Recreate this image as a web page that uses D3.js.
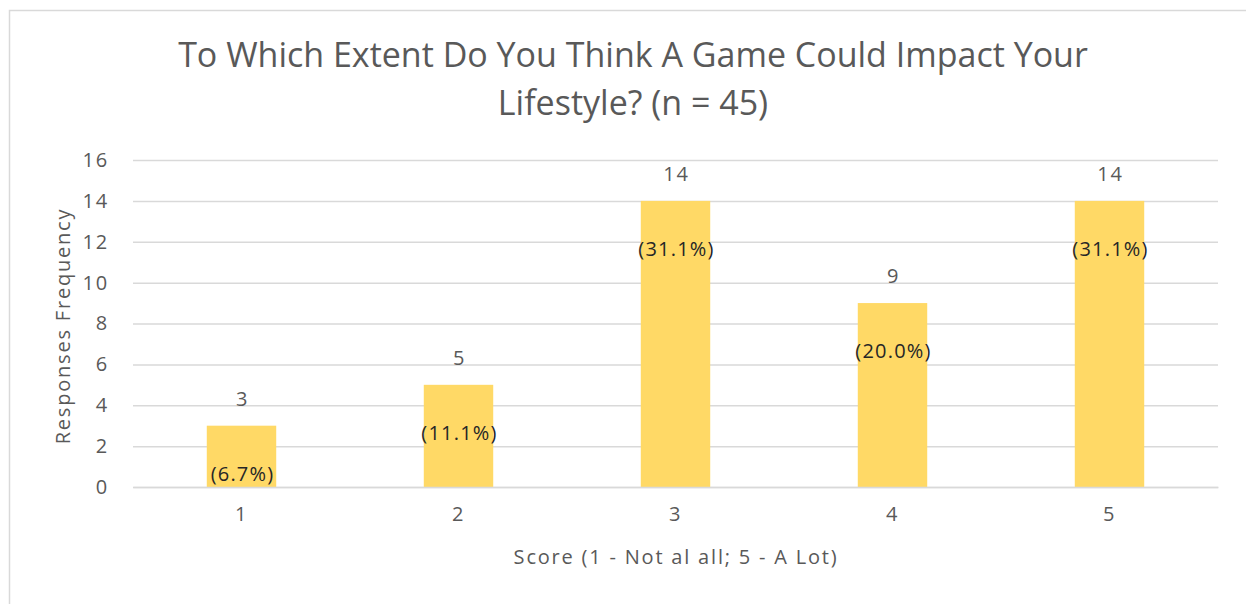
<!DOCTYPE html>
<html><head><meta charset="utf-8">
<script src="https://cdn.jsdelivr.net/npm/d3@7"></script>
<style>html,body{margin:0;padding:0;background:#fff;overflow:hidden}</style>
</head><body>
<svg id="c" width="1246" height="604"></svg>
<script>
const categories = ["1","2","3","4","5"];
const frequencies = [3,5,14,9,14];
const percentLabels = ["(6.7%)","(11.1%)","(31.1%)","(20.0%)","(31.1%)"];
const yTicks = [0,2,4,6,8,10,12,14,16];
const titleLines = ["To Which Extent Do You Think A Game Could Impact Your","Lifestyle? (n = 45)"];
const xTitle = "Score (1 - Not al all; 5 - A Lot)";
const yTitle = "Responses Frequency";

const svg = d3.select("#c");
const FONT = "'Open Sans', sans-serif";
const GRAY = "#595959";

svg.append("rect").attr("x",9.5).attr("y",10.5).attr("width",1260).attr("height",620)
  .attr("fill","#fff").attr("stroke","#d9d9d9").attr("stroke-width",1.5);

const m = {left:133, right:1218, top:160, bottom:487};
const x = d3.scaleBand().domain(categories).range([m.left,m.right]).paddingInner(0.68).paddingOuter(0.34);
const y = d3.scaleLinear().domain([0,16]).range([m.bottom,m.top]);

function styleText(sel, size, ls, fill){
  sel.attr("fill",fill||GRAY).style("font-family",FONT).style("font-size",size+"px").style("letter-spacing",ls+"px");
}

// gridlines
const yAxis = d3.axisLeft(y).tickValues(yTicks).tickSize(-(m.right-m.left)).tickPadding(24);
const gy = svg.append("g").attr("transform",`translate(${m.left},0)`).call(yAxis);
gy.select(".domain").remove();
gy.selectAll(".tick line").attr("stroke","#d9d9d9").attr("stroke-width",1.5);
styleText(gy.selectAll(".tick text"),20,1.8);

// bars
svg.append("g").selectAll("rect").data(frequencies).join("rect")
  .attr("x",(d,i)=>x(categories[i])).attr("width",x.bandwidth())
  .attr("y",d=>y(d)).attr("height",d=>y(0)-y(d)).attr("fill","#FFD966");

// x axis
const xAxis = d3.axisBottom(x).tickSize(0).tickPadding(20);
const gx = svg.append("g").attr("transform",`translate(0,${m.bottom})`).call(xAxis);
gx.select(".domain").attr("stroke","#d9d9d9").attr("stroke-width",1.5);
styleText(gx.selectAll(".tick text"),20,1.8);

// value labels
styleText(svg.append("g").selectAll("text").data(frequencies).join("text")
  .attr("x",(d,i)=>x(categories[i])+x.bandwidth()/2+1).attr("y",d=>y(d)-20)
  .attr("text-anchor","middle").text(d=>d),20,1.8);

// percent labels
styleText(svg.append("g").selectAll("text").data(frequencies).join("text")
  .attr("x",(d,i)=>x(categories[i])+x.bandwidth()/2+1).attr("y",d=>y(d)+55)
  .attr("text-anchor","middle").text((d,i)=>percentLabels[i]),20,1.2,"#262626");

// title
styleText(svg.append("g").selectAll("text").data(titleLines).join("text")
  .attr("x",633).attr("y",(d,i)=>67+i*48)
  .attr("text-anchor","middle").text(d=>d),34,0);

styleText(svg.append("text").attr("x",676).attr("y",564).attr("text-anchor","middle").text(xTitle),20,1.8);

styleText(svg.append("text").attr("transform","translate(70,326) rotate(-90)").attr("text-anchor","middle").text(yTitle),20,1.8);
</script>
</body></html>
